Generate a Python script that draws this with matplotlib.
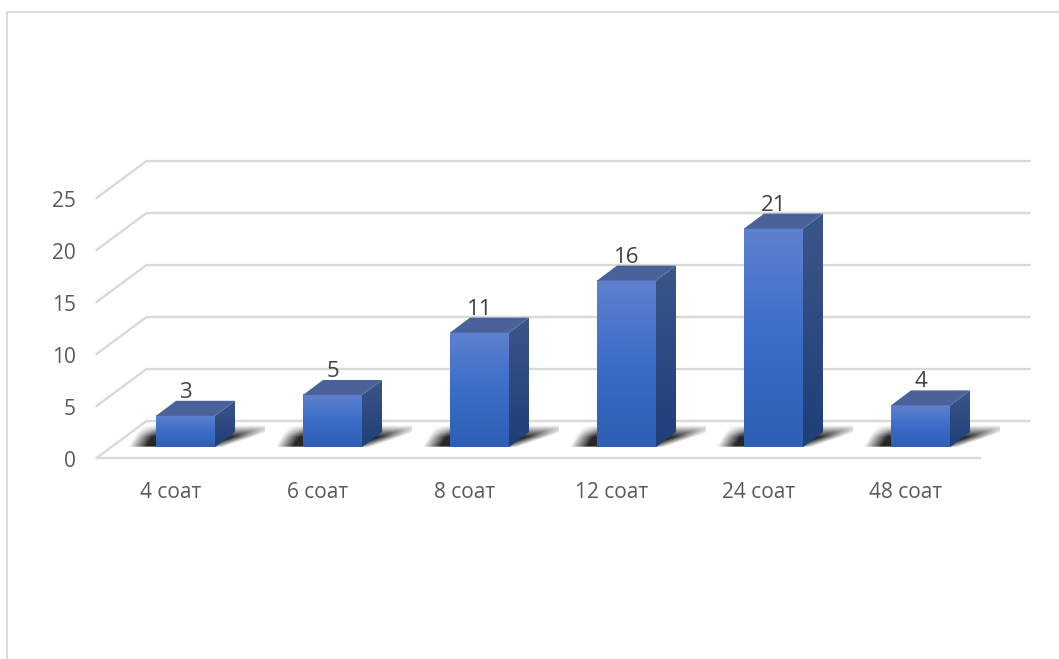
import numpy as np
import matplotlib
matplotlib.use('Agg')
import matplotlib.pyplot as plt
from matplotlib.colors import LinearSegmentedColormap
from matplotlib.patches import Polygon

plt.rcParams['font.family'] = ['Open Sans', 'DejaVu Sans']

categories = ['4 соат', '6 соат', '8 соат', '12 соат', '24 соат', '48 соат']
values = [3, 5, 11, 16, 21, 4]
y_ticks = [0, 5, 10, 15, 20, 25]

# pixel layout of the fake 3d box
first_bar = 185.5
step = 147
unit = 10.4
base_y = 447
bar_w = 59 / step
dx = 20 / step       # depth of a bar
dy = 15 / unit
fx = 50 / step       # depth of the floor/walls
fy = 37 / unit
front_y = -11 / unit
front_x0 = (96.5 - first_bar) / step
front_x1 = (979.5 - first_bar) / step

front_cm = LinearSegmentedColormap.from_list('front', ['#5f81cf', '#3b6dc9', '#2e5fb3'])
side_cm = LinearSegmentedColormap.from_list('side', ['#3c5689', '#1f3e78'])
grid_c = '#d9d9d9'

fig = plt.figure(figsize=(10.59, 6.59), dpi=100)
ax = fig.add_axes([0, 0, 1, 1])
ax.set_axis_off()
xlim = (-first_bar / step, (1059 - first_bar) / step)
ylim = ((base_y - 659) / unit, base_y / unit)

# outer frame
ax.plot([(7 - first_bar) / step, (7 - first_bar) / step, xlim[1]],
        [ylim[0], (base_y - 12) / unit, (base_y - 12) / unit], color=grid_c, lw=1.3)

# grid, wall diagonals and floor
for v in y_ticks:
    y = front_y + v
    ax.plot([front_x0, front_x0 + fx, front_x1 + fx], [y, y + fy, y + fy], color=grid_c, lw=1.7,
            solid_joinstyle='miter')
ax.plot([front_x0, front_x1], [front_y, front_y], color=grid_c, lw=1.7)

grad = np.linspace(0, 1, 200)[:, None]

for i, val in enumerate(values):
    left = i - bar_w / 2
    right = i + bar_w / 2

    # floor shadow
    px = np.arange(-30, 110)
    hy = np.linspace(0, 22, 66)
    xx, hh = np.meshgrid(px, hy)
    lo = -28 + hh * 0.6
    hi = 68 + hh * 2.9
    alpha = np.clip((xx - lo) / 18, 0, 1) * np.clip((hi - xx) / 20, 0, 1) * np.clip((22 - hh) / 12, 0, 1)
    alpha[hh < 0.3] = 0
    rgba = np.zeros(alpha.shape + (4,))
    rgba[..., 3] = alpha * 0.85
    ax.imshow(rgba, origin='lower', aspect='auto', zorder=3, interpolation='bilinear',
              extent=[left + px[0] / step, left + px[-1] / step, 0, 22 / unit])

    # front face
    ax.imshow(grad, cmap=front_cm, aspect='auto', zorder=4, extent=[left, right, 0, val])

    # side face
    side = ax.imshow(grad, cmap=side_cm, aspect='auto', zorder=4,
                     extent=[right, right + dx, 0, val + dy])
    side.set_clip_path(Polygon([(right, 0), (right + dx, dy), (right + dx, val + dy), (right, val)],
                               transform=ax.transData))

    # top face
    ax.add_patch(Polygon([(left, val), (right, val), (right + dx, val + dy), (left + dx, val + dy)],
                         closed=True, facecolor='#4a6299', edgecolor='none', zorder=4))

    ax.text(i, val + 26 / unit, str(val), ha='center', va='center_baseline', fontsize=16,
            color='#404040', zorder=6)
    ax.text(i - 14.5 / step, -43 / unit, categories[i], ha='center', va='center_baseline', fontsize=15,
            color='#595959')

for v in y_ticks:
    ax.text((76 - first_bar) / step, front_y + v - 1 / unit, str(v), ha='right', va='center_baseline',
            fontsize=15, color='#595959')

ax.set_xlim(xlim)
ax.set_ylim(ylim)

fig.savefig('out.png', dpi=100, facecolor='white')
